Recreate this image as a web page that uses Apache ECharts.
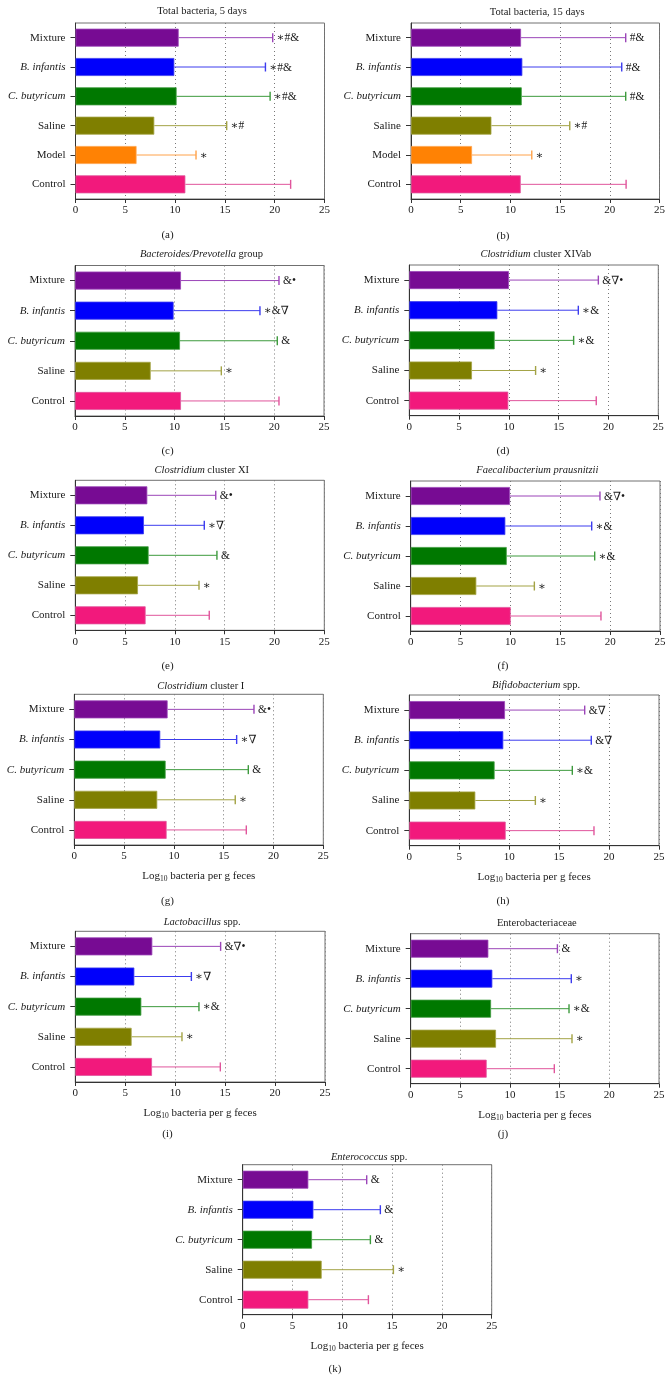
<!DOCTYPE html>
<html><head><meta charset="utf-8">
<script src="https://cdn.jsdelivr.net/npm/echarts@6/dist/echarts.min.js"></script>
<style>html,body{margin:0;padding:0;background:#fff}#c{width:671px;height:1380px}</style>
</head><body><div id="c"></div>
<script>
// categories listed bottom -> top
const cats6 = ['Control', 'Model', 'Saline', 'C. butyricum', 'B. infantis', 'Mixture'];
const cats5 = ['Control', 'Saline', 'C. butyricum', 'B. infantis', 'Mixture'];
const xTicks = [0, 5, 10, 15, 20, 25];

const aMean = [11.03, 6.13, 7.91, 10.15, 9.92, 10.36];
const aErr  = [21.6, 12.1, 15.18, 19.54, 19.07, 19.8];
const aSig  = ['', '∗', '∗#', '∗#&', '∗#&', '∗#&'];

const bMean = [11.04, 6.14, 8.09, 11.14, 11.2, 11.07];
const bErr  = [21.64, 12.15, 15.97, 21.6, 21.2, 21.6];
const bSig  = ['', '∗', '∗#', '#&', '#&', '#&'];

const cMean = [10.64, 7.6, 10.54, 9.9, 10.64];
const cErr  = [20.48, 14.69, 20.31, 18.57, 20.48];
const cSig  = ['', '∗', '&', '∗&∇', '&•'];

const dMean = [9.94, 6.29, 8.57, 8.84, 10.0];
const dErr  = [18.77, 12.68, 16.5, 16.97, 18.98];
const dSig  = ['', '∗', '∗&', '∗&', '&∇•'];

const eMean = [7.06, 6.29, 7.36, 6.89, 7.23];
const eErr  = [13.45, 12.42, 14.22, 12.95, 14.1];
const eSig  = ['', '∗', '&', '∗∇', '&•'];

const fMean = [10.03, 6.58, 9.63, 9.49, 9.96];
const fErr  = [19.08, 12.4, 18.45, 18.15, 18.98];
const fSig  = ['', '∗', '∗&', '∗&', '&∇•'];

const gMean = [9.27, 8.33, 9.17, 8.63, 9.37];
const gErr  = [17.27, 16.16, 17.47, 16.3, 18.04];
const gSig  = ['', '∗', '&', '∗∇', '&•'];

const hMean = [9.65, 6.61, 8.54, 9.41, 9.58];
const hErr  = [18.49, 12.62, 16.32, 18.22, 17.56];
const hSig  = ['', '∗', '∗&', '&∇', '&∇'];

const iMean = [7.68, 5.64, 6.61, 5.91, 7.71];
const iErr  = [14.52, 10.68, 12.38, 11.62, 14.55];
const iSig  = ['', '∗', '∗&', '∗∇', '&∇•'];

const jMean = [7.65, 8.59, 8.09, 8.22, 7.82];
const jErr  = [14.46, 16.24, 15.94, 16.17, 14.77];
const jSig  = ['', '∗', '∗&', '∗', '&'];

const kMean = [6.59, 7.93, 6.96, 7.1, 6.59];
const kErr  = [12.62, 15.13, 12.82, 13.82, 12.45];
const kSig  = ['', '∗', '&', '&', '&'];

const FONT = '"Liberation Serif", "DejaVu Serif", serif';
const TXT = '#1a1a1a';
const barColors = {'Control':'#f2197c','Model':'#ff8204','Saline':'#7f7f00','C. butyricum':'#007800','B. infantis':'#0000fb','Mixture':'#770b93'};
const errColors = {'Control':'#e0559c','Model':'#ffa24a','Saline':'#a3a345','C. butyricum':'#3d9a3d','B. infantis':'#3c3cee','Mixture':'#9b45b8'};

const panels = [
  {t:'Total bacteria, 5 days', L:'(a)', cats:cats6, m:aMean, e:aErr, s:aSig, g:[75.5,23,249,176], ty:11, lx:167.5, ly:235, xl:false},
  {t:'Total bacteria, 15 days', L:'(b)', cats:cats6, m:bMean, e:bErr, s:bSig, g:[411,23,248.5,176], ty:12, lx:503, ly:236, xl:false},
  {t:'{i|Bacteroides/Prevotella} group', L:'(c)', cats:cats5, m:cMean, e:cErr, s:cSig, g:[75,265.5,249,150.5], ty:254, lx:167.5, ly:451, xl:false},
  {t:'{i|Clostridium} cluster XIVab', L:'(d)', cats:cats5, m:dMean, e:dErr, s:dSig, g:[409.3,265,249,150.7], ty:254, lx:503, ly:451, xl:false},
  {t:'{i|Clostridium} cluster XI', L:'(e)', cats:cats5, m:eMean, e:eErr, s:eSig, g:[75.3,480.3,249,150], ty:470, lx:167.5, ly:666, xl:false},
  {t:'{i|Faecalibacterium prausnitzii}', L:'(f)', cats:cats5, m:fMean, e:fErr, s:fSig, g:[410.7,481,249.3,150], ty:470, lx:503, ly:666, xl:false},
  {t:'{i|Clostridium} cluster I', L:'(g)', cats:cats5, m:gMean, e:gErr, s:gSig, g:[74.3,694.3,249,150.7], ty:686, lx:167.5, ly:901.5, xl:true},
  {t:'{i|Bifidobacterium} spp.', L:'(h)', cats:cats5, m:hMean, e:hErr, s:hSig, g:[409.3,695,249.7,150.7], ty:685, lx:503, ly:901.5, xl:true},
  {t:'{i|Lactobacillus} spp.', L:'(i)', cats:cats5, m:iMean, e:iErr, s:iSig, g:[75.3,931.3,249.7,150.7], ty:922, lx:167.5, ly:1134.5, xl:true},
  {t:'Enterobacteriaceae', L:'(j)', cats:cats5, m:jMean, e:jErr, s:jSig, g:[410.7,933.7,248.3,150], ty:923, lx:503, ly:1134, xl:true},
  {t:'{i|Enterococcus} spp.', L:'(k)', cats:cats5, m:kMean, e:kErr, s:kSig, g:[242.7,1164.7,249,150], ty:1157.3, lx:335, ly:1368.7, xl:true}
];

const grid = [], xAxis = [], yAxis = [], series = [], graphic = [];
panels.forEach((p, i) => {
  grid.push({left:p.g[0], top:p.g[1], width:p.g[2], height:p.g[3], show:true, borderColor:'#707070', borderWidth:1, containLabel:false});
  xAxis.push({
    gridIndex:i, type:'value', min:xTicks[0], max:xTicks[xTicks.length-1], interval:xTicks[1]-xTicks[0],
    axisLine:{show:true, onZero:false, lineStyle:{color:'#333', width:1}},
    axisTick:{show:true, length:4, lineStyle:{color:'#333'}},
    axisLabel:{fontFamily:FONT, fontSize:11, color:TXT, margin:6},
    splitLine:{show:true, lineStyle:{type:[1,3], color:'#777', width:1}},
    name: p.xl ? '{a|Log}{s|10}{a| bacteria per g feces}' : '',
    nameLocation:'middle', nameGap:24,
    nameTextStyle:{fontFamily:FONT, fontSize:11, color:TXT,
      rich:{a:{fontFamily:FONT, fontSize:11, color:TXT, lineHeight:14},
            s:{fontFamily:FONT, fontSize:7.5, color:TXT, verticalAlign:'bottom', lineHeight:6}}}
  });
  yAxis.push({
    gridIndex:i, type:'category', data:p.cats,
    axisLine:{show:true, lineStyle:{color:'#333', width:1}},
    axisTick:{show:true, alignWithLabel:true, length:5, lineStyle:{color:'#333'}},
    axisLabel:{fontFamily:FONT, fontSize:11, color:TXT, margin:10,
      formatter: v => v.indexOf('.') >= 0 ? '{i|' + v + '}' : v,
      rich:{i:{fontFamily:FONT, fontSize:11, color:TXT, fontStyle:'italic'}}},
    splitLine:{show:false}
  });
  series.push({
    type:'bar', xAxisIndex:i, yAxisIndex:i, barWidth:18, silent:true, animation:false,
    data: p.m.map((v, k) => ({value:v, itemStyle:{color:barColors[p.cats[k]], borderColor:errColors[p.cats[k]], borderWidth:0.8}}))
  });
  series.push({
    type:'custom', xAxisIndex:i, yAxisIndex:i, silent:true, animation:false, z:5,
    encode:{x:[0,2], y:1},
    data: p.m.map((v, k) => [v, k, p.e[k]]),
    renderItem: (params, api) => {
      const k = api.value(1);
      const s = api.coord([api.value(0), k]);
      const e = api.coord([api.value(2), k]);
      const col = errColors[p.cats[k]];
      return {type:'group', children:[
        {type:'line', shape:{x1:s[0], y1:s[1], x2:e[0], y2:s[1]}, style:{stroke:col, lineWidth:1}},
        {type:'line', shape:{x1:e[0], y1:s[1]-4.5, x2:e[0], y2:s[1]+4.5}, style:{stroke:col, lineWidth:1.4}},
        {type:'text', x:e[0]+4, y:s[1]+0.5, style:{text:p.s[k], fontFamily:FONT, fontSize:11.5, fill:TXT, align:'left', verticalAlign:'middle'}}
      ]};
    }
  });
  graphic.push({type:'text', x:p.g[0] + p.g[2]/2 + 2, y:p.ty, silent:true,
    style:{text:p.t, fontFamily:FONT, fontSize:10.5, fill:TXT, align:'center', verticalAlign:'middle',
      rich:{i:{fontFamily:FONT, fontSize:10.5, fill:TXT, fontStyle:'italic'}}}});
  graphic.push({type:'text', x:p.lx, y:p.ly, silent:true,
    style:{text:p.L, fontFamily:FONT, fontSize:11, fill:TXT, align:'center', verticalAlign:'middle'}});
});

const chart = echarts.init(document.getElementById('c'), null, {renderer:'canvas'});
chart.setOption({animation:false, backgroundColor:'#fff', grid, xAxis, yAxis, series, graphic});
</script>
</body></html>
